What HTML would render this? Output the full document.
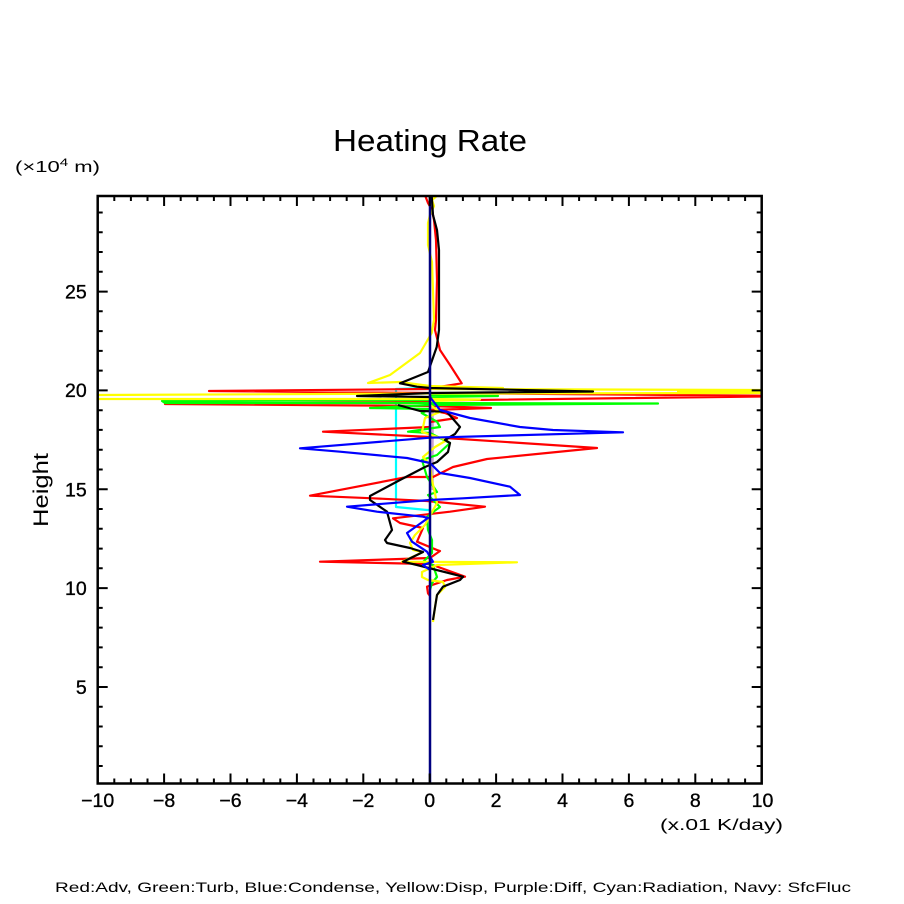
<!DOCTYPE html>
<html><head><meta charset="utf-8"><style>
html,body{margin:0;padding:0;background:#fff;}
svg{display:block;}
text{font-family:"Liberation Sans",sans-serif;fill:#000;}
</style></head><body>
<svg width="904" height="904" viewBox="0 0 904 904" xmlns="http://www.w3.org/2000/svg">
<rect width="904" height="904" fill="#fff"/>
<text x="430" y="151" font-size="31" text-anchor="middle" textLength="194" lengthAdjust="spacingAndGlyphs">Heating Rate</text>
<text x="15" y="172" font-size="16" textLength="85" lengthAdjust="spacingAndGlyphs">(×10<tspan dy="-6" font-size="11">4</tspan><tspan dy="6"> m)</tspan></text>
<text transform="translate(48,490) rotate(-90)" font-size="21" text-anchor="middle" textLength="74" lengthAdjust="spacingAndGlyphs">Height</text>
<text x="660" y="830" font-size="16" textLength="123" lengthAdjust="spacingAndGlyphs">(x.01 K/day)</text>
<text x="55" y="892" font-size="14" textLength="796" lengthAdjust="spacingAndGlyphs">Red:Adv, Green:Turb, Blue:Condense, Yellow:Disp, Purple:Diff, Cyan:Radiation, Navy: SfcFluc</text>

<g font-size="19.5" text-anchor="middle" stroke="#000" stroke-width="0.35">
<text x="97.7" y="807">−10</text>
<text x="164.1" y="807">−8</text>
<text x="230.5" y="807">−6</text>
<text x="296.9" y="807">−4</text>
<text x="363.3" y="807">−2</text>
<text x="429.7" y="807">0</text>
<text x="496.1" y="807">2</text>
<text x="562.5" y="807">4</text>
<text x="628.9" y="807">6</text>
<text x="695.3" y="807">8</text>
<text x="762.5" y="807">10</text>
</g>
<g font-size="19.5" text-anchor="end" stroke="#000" stroke-width="0.35">
<text x="86.7" y="694">5</text>
<text x="86.7" y="595">10</text>
<text x="86.7" y="496.5">15</text>
<text x="86.7" y="397">20</text>
<text x="86.7" y="298.5">25</text>
</g>

<defs><clipPath id="pc"><rect x="98" y="196" width="663.5" height="587.5"/></clipPath></defs>

<g clip-path="url(#pc)" fill="none" stroke-width="2.2" stroke-linejoin="round">
<!-- purple -->
<polyline stroke="#c8a0d0" stroke-width="2.5" points="432.5,405 432.5,490"/>
<!-- cyan -->
<polyline stroke="#00ffff" points="430,388 396,389 396,507 427,510 430,510"/>
<!-- red -->
<polyline stroke="#ff0000" points="428,195 425.7,197 428,203 432,210 434,220 436,240 437,280 436,320 435,330 440,350 450,365 461.7,383.3 433,388 430,389 209,391 430,393 800,396 430,400.5"/>
<polyline stroke="#ff0000" points="430,402 165,404 430,406 491,408 430,410 445,413 457,418 430,422"/>
<polyline stroke="#ff0000" points="430,427 323,431.7 430,437 597,448 487,459 453,467 433,477 407,477 310,495.7 373,498.3 427,501 485,506.7 450,511.7 393,518.3 400,523 423,528 417,541.7 437,550 440,551 430,558 320,561.7 430,564 465,576.7 447,580 427,586.7 428,593.3 430,596"/>
<!-- green -->
<polyline stroke="#00ff00" points="430,395.5 498,396 430,397"/>
<polyline stroke="#00ff00" points="430,400 162,401 165,403 430,403 658,403.5 430,405 370,408 430,409 421.7,413 437,421.7 440,427 408,431.7 430,433 450,443 437,455 422,460 427,477 437,492 428,495 440,507 433,512 427,517 428,530 432,540 432,553 423,562 433,565 437,577 432,583 430,590"/>
<!-- yellow -->
<polyline stroke="#ffff00" points="436.7,196 432,200 434,206 430,215 428,223 428,245 432,262 434,320 431.7,333 420,353 390,375 368,383 400,382 430,386 503,388 430,389 762,390 762,393 430,393.5 97,395 97,399 430,399 480,399.5 430,401"/>
<polyline stroke="#ffff00" stroke-width="3" points="677,392 762,392"/>
<polyline stroke="#ffff00" points="430,405 440,412 425,418 422,432 447,440 435,447 423,457 430,465 432,480 437,503 432,512 425,525 415,535 410,543 413,550 423,552 402,561.7 517,562.3 437,565 422,572 422,577 428,580 443,582 445,587 437,595 435,607 433,622"/>
<!-- black -->
<polyline stroke="#000000" points="431.7,196 433,215 437,230 439,250 439,330 436.7,347 428,372 400,383.3 417,386.7 430,388 593,391.5 430,393 357,396 430,397"/>
<polyline stroke="#000000" points="398,405 420,411 446.7,411.7 460,427 455,434 445,440 450,443 448,452 437,462 425,467 400,480 370,496 370,500 387,511.7 392,530 385,540 387,543 410,548 423,552 403,561.7 417,565 463,576.7 460,580 443,586.7 437,595 433,620"/>
<!-- blue -->
<polyline stroke="#0000ff" points="430,395 430,397 440,410 470,418 520,427 553,430 623,432.3 587,433.3 430,437.7 300,448.3 340,451.7 407,458 430,463 440,473 470,478 510,486.7 520,495 463,498.3 430,500 347,506.7 377,511.7 423,516.7 428,518 407,533 412,541.7 427,551.7 433,561.7 423,565 430,570"/>
<!-- navy -->
<line x1="430" y1="196" x2="430" y2="784" stroke="#000080" stroke-width="2.5"/>
</g>

<!-- axes frame -->
<rect x="97.7" y="196" width="664" height="587.5" fill="none" stroke="#000" stroke-width="2.5"/>
<g stroke="#000" stroke-width="2" fill="none">
<path d="M114.3 783.5v-5M130.9 783.5v-5M147.5 783.5v-5M180.7 783.5v-5M197.3 783.5v-5M213.9 783.5v-5M247.1 783.5v-5M263.7 783.5v-5M280.3 783.5v-5M313.5 783.5v-5M330.1 783.5v-5M346.7 783.5v-5M379.9 783.5v-5M396.5 783.5v-5M413.1 783.5v-5M446.3 783.5v-5M462.9 783.5v-5M479.5 783.5v-5M512.7 783.5v-5M529.3 783.5v-5M545.9 783.5v-5M579.1 783.5v-5M595.7 783.5v-5M612.3 783.5v-5M645.5 783.5v-5M662.1 783.5v-5M678.7 783.5v-5M711.9 783.5v-5M728.5 783.5v-5M745.1 783.5v-5"/>
<path d="M164.1 783.5v-10M230.5 783.5v-10M296.9 783.5v-10M363.3 783.5v-10M429.7 783.5v-10M496.1 783.5v-10M562.5 783.5v-10M628.9 783.5v-10M695.3 783.5v-10"/>
<path d="M114.3 196v5M130.9 196v5M147.5 196v5M180.7 196v5M197.3 196v5M213.9 196v5M247.1 196v5M263.7 196v5M280.3 196v5M313.5 196v5M330.1 196v5M346.7 196v5M379.9 196v5M396.5 196v5M413.1 196v5M446.3 196v5M462.9 196v5M479.5 196v5M512.7 196v5M529.3 196v5M545.9 196v5M579.1 196v5M595.7 196v5M612.3 196v5M645.5 196v5M662.1 196v5M678.7 196v5M711.9 196v5M728.5 196v5M745.1 196v5"/>
<path d="M164.1 196v10M230.5 196v10M296.9 196v10M363.3 196v10M429.7 196v10M496.1 196v10M562.5 196v10M628.9 196v10M695.3 196v10"/>
<path d="M97.7 766h5M97.7 746.3h5M97.7 726.5h5M97.7 706.7h5M97.7 667.2h5M97.7 647.4h5M97.7 627.6h5M97.7 607.9h5M97.7 568.3h5M97.7 548.6h5M97.7 528.8h5M97.7 509h5M97.7 469.5h5M97.7 449.7h5M97.7 429.9h5M97.7 410.2h5M97.7 370.6h5M97.7 350.9h5M97.7 331.1h5M97.7 311.3h5M97.7 271.8h5M97.7 252h5M97.7 232.2h5M97.7 212.5h5"/>
<path d="M97.7 687h10M97.7 588.1h10M97.7 489.3h10M97.7 390.4h10M97.7 291.6h10"/>
<path d="M761.7 766h-5M761.7 746.3h-5M761.7 726.5h-5M761.7 706.7h-5M761.7 667.2h-5M761.7 647.4h-5M761.7 627.6h-5M761.7 607.9h-5M761.7 568.3h-5M761.7 548.6h-5M761.7 528.8h-5M761.7 509h-5M761.7 469.5h-5M761.7 449.7h-5M761.7 429.9h-5M761.7 410.2h-5M761.7 370.6h-5M761.7 350.9h-5M761.7 331.1h-5M761.7 311.3h-5M761.7 271.8h-5M761.7 252h-5M761.7 232.2h-5M761.7 212.5h-5"/>
<path d="M761.7 687h-10M761.7 588.1h-10M761.7 489.3h-10M761.7 390.4h-10M761.7 291.6h-10"/>
</g>
</svg>
</body></html>
